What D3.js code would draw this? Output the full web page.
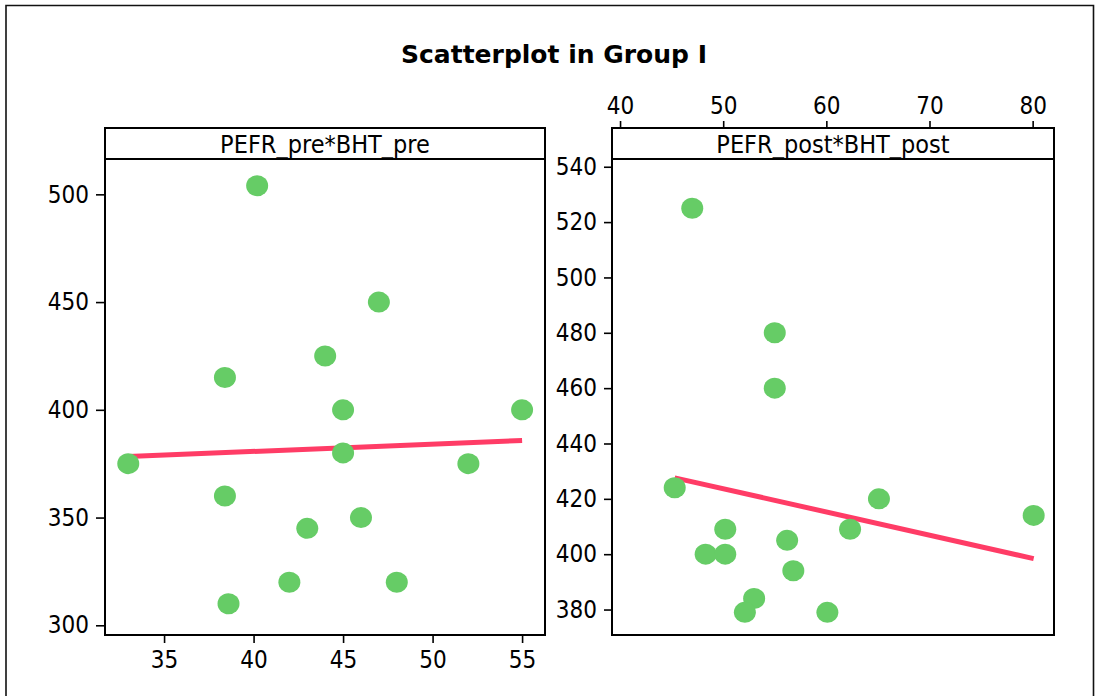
<!DOCTYPE html>
<html><head><meta charset="utf-8">
<script src="https://cdn.jsdelivr.net/npm/d3@7"></script>
<style>
body{margin:0;background:#fff}
svg{display:block}
.tick text{font-family:"DejaVu Sans Condensed","DejaVu Sans",sans-serif;font-stretch:condensed;font-size:24px;fill:#000}
.tick line{stroke:#000;stroke-width:1.6}
</style></head><body>
<svg id="c" width="1095" height="696"></svg>
<script>
const title = "Scatterplot in Group I";
const panelLabels = ["PEFR_pre*BHT_pre", "PEFR_post*BHT_post"];
const bhtPre  = [40.2, 47, 44, 38.4, 45, 55, 33, 45, 52, 38.4, 46, 43, 42, 48, 38.6];
const pefrPre = [504, 450, 425, 415, 400, 400, 375, 380, 375, 360, 350, 345, 320, 320, 310];
const bhtPost  = [47, 55, 55, 45.3, 50.2, 48.3, 50.2, 56.2, 56.8, 53, 52.1, 60.1, 62.3, 65.1, 80.1];
const pefrPost = [525, 480, 460, 424, 409, 400, 400, 405, 394, 384, 379, 379, 409, 420, 414];
const preXTicks = [35, 40, 45, 50, 55];
const preYTicks = [300, 350, 400, 450, 500];
const postXTicks = [40, 50, 60, 70, 80];
const postYTicks = [380, 400, 420, 440, 460, 480, 500, 520, 540];

const svg = d3.select("#c");
const FONT = '"DejaVu Sans Condensed","DejaVu Sans",sans-serif';

// outer border
svg.append("path").attr("d", "M6,700 V5.5 H1093.5 V700")
  .attr("fill", "none").attr("stroke", "#111").attr("stroke-width", 1.6);

svg.append("text").attr("x", 554).attr("y", 63).attr("text-anchor", "middle")
  .attr("font-family", '"DejaVu Sans",Verdana,sans-serif').attr("font-weight", "bold")
  .attr("font-size", 25).attr("fill", "#000").text(title);

const headTop = 128, headBot = 159, plotBot = 635;

const panels = [
  { label: panelLabels[0], xs: bhtPre, ys: pefrPre, x0: 105, x1: 545,
    xDom: [31.70, 56.28], yDom: [295.5, 516.4], xTicks: preXTicks, yTicks: preYTicks, xPos: "bottom", ySize: 9 },
  { label: panelLabels[1], xs: bhtPost, ys: pefrPost, x0: 612, x1: 1054,
    xDom: [39.22, 82.07], yDom: [370.8, 542.8], xTicks: postXTicks, yTicks: postYTicks, xPos: "top", ySize: 8 }
];

function fit(xs, ys) {
  const mx = d3.mean(xs), my = d3.mean(ys);
  let sxy = 0, sxx = 0;
  xs.forEach((x, i) => { sxy += (x - mx) * (ys[i] - my); sxx += (x - mx) * (x - mx); });
  const b = sxy / sxx, a = my - b * mx;
  const lo = d3.min(xs), hi = d3.max(xs);
  return [[lo, a + b * lo], [hi, a + b * hi]];
}

panels.forEach(p => {
  const x = d3.scaleLinear().domain(p.xDom).range([p.x0, p.x1]);
  const y = d3.scaleLinear().domain(p.yDom).range([plotBot, headBot]);
  const g = svg.append("g");

  const ya = g.append("g").attr("transform", `translate(${p.x0},0)`)
    .call(d3.axisLeft(y).tickValues(p.yTicks).tickSize(p.ySize).tickPadding(7).tickFormat(d3.format("d")));
  ya.select(".domain").remove();

  if (p.xPos === "bottom") {
    const xa = g.append("g").attr("transform", `translate(0,${plotBot})`)
      .call(d3.axisBottom(x).tickValues(p.xTicks).tickSize(8).tickPadding(8).tickFormat(d3.format("d")));
    xa.select(".domain").remove();
  } else {
    const xa = g.append("g").attr("transform", `translate(0,${headTop})`)
      .call(d3.axisTop(x).tickValues(p.xTicks).tickSize(7).tickPadding(7).tickFormat(d3.format("d")));
    xa.select(".domain").remove();
  }
  g.selectAll(".tick text").attr("font-family", FONT);

  const ln = fit(p.xs, p.ys);
  g.append("path")
    .attr("d", d3.line().x(d => x(d[0])).y(d => y(d[1]))(ln))
    .attr("stroke", "#FF3C66").attr("stroke-width", 5).attr("fill", "none");

  g.selectAll("ellipse.pt").data(p.xs.map((v, i) => [v, p.ys[i]])).enter()
    .append("ellipse").attr("class", "pt")
    .attr("cx", d => x(d[0])).attr("cy", d => y(d[1]))
    .attr("rx", 11).attr("ry", 10.5).attr("fill", "#66CC66");

  g.append("rect").attr("x", p.x0).attr("y", headTop).attr("width", p.x1 - p.x0)
    .attr("height", plotBot - headTop).attr("fill", "none").attr("stroke", "#000").attr("stroke-width", 2);
  g.append("line").attr("x1", p.x0).attr("x2", p.x1).attr("y1", headBot).attr("y2", headBot)
    .attr("stroke", "#000").attr("stroke-width", 2);
  g.append("text").attr("x", (p.x0 + p.x1) / 2).attr("y", 153).attr("text-anchor", "middle")
    .attr("font-family", FONT).attr("font-stretch", "condensed").attr("font-size", 25)
    .attr("fill", "#000").text(p.label);
});
</script>
</body></html>
